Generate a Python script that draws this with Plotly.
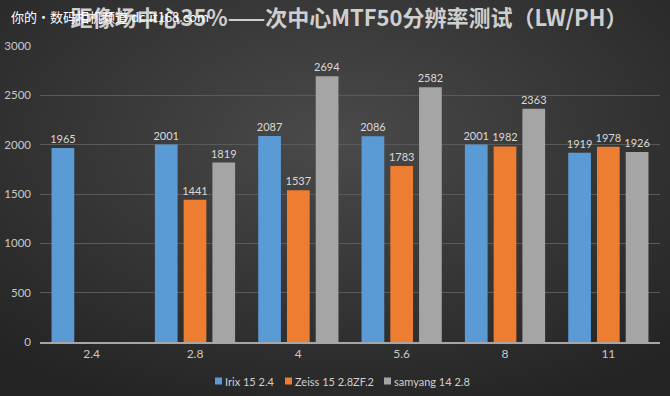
import plotly.graph_objects as go
import base64

categories = ["2.4", "2.8", "4", "5.6", "8", "11"]
irix = [1965, 2001, 2087, 2086, 2001, 1919]
zeiss = [None, 1441, 1537, 1783, 1982, 1978]
samyang = [None, 1819, 2694, 2582, 2363, 1926]
series_names = ["Irix 15 2.4", "Zeiss 15 2.8ZF.2", "samyang 14 2.8"]
colors = ["#5b9bd5", "#ed7d31", "#a5a5a5"]
title = "距像场中心35%——次中心MTF50分辨率测试（LW/PH）"
watermark = "你的•数码相机频道 dc.it168.com"

W, H = 670, 396
L, R, T, B = 40, 10, 46, 54
pw, ph = W - L - R, H - T - B


def px(x):
    return (x - L) / pw


def py(y):
    return (H - B - y) / ph


fig = go.Figure()
for name, vals, c in zip(series_names, [irix, zeiss, samyang], colors):
    fig.add_trace(go.Bar(
        x=categories, y=vals, name=name, marker_color=c,
        marker_line_width=0, showlegend=False,
        text=[("" if v is None else str(v)) for v in vals],
        textposition="outside", cliponaxis=False, constraintext="none",
        textfont=dict(color="#d9d9d9", size=11, family="Lato"),
    ))

svg = (
    '<svg xmlns="http://www.w3.org/2000/svg" width="670" height="396">'
    '<defs><radialGradient id="g" cx="0.5" cy="0.35" r="0.75">'
    '<stop offset="0" stop-color="#4a4a4a"/>'
    '<stop offset="1" stop-color="#232323"/>'
    '</radialGradient></defs>'
    '<rect width="670" height="396" fill="url(#g)"/></svg>'
)
src = "data:image/svg+xml;base64," + base64.b64encode(svg.encode()).decode()

# custom legend (tiny squares as in the reference)
legend_sq_x = [215, 285, 384]
legend_txt_x = [223, 293, 392]
legend_y = 381
shapes = []
annotations = []
for name, c, sx, tx in zip(series_names, colors, legend_sq_x, legend_txt_x):
    shapes.append(dict(type="rect", xref="paper", yref="paper",
                       x0=px(sx), x1=px(sx + 7), y0=py(legend_y + 3.5), y1=py(legend_y - 3.5),
                       fillcolor=c, line_width=0))
    annotations.append(dict(text=name, xref="paper", yref="paper", x=px(tx), y=py(legend_y),
                            xanchor="left", yanchor="middle", showarrow=False,
                            font=dict(size=11, color="#d0d0d0", family="Lato")))

annotations.append(dict(text=watermark, xref="paper", yref="paper",
                        x=px(9), y=py(17), xanchor="left", yanchor="middle",
                        showarrow=False,
                        font=dict(size=13, color="#ffffff", family="Noto Sans CJK SC")))

fig.update_layout(
    width=W, height=H,
    margin=dict(l=L, r=R, t=T, b=B, autoexpand=False),
    paper_bgcolor="#383838",
    plot_bgcolor="rgba(0,0,0,0)",
    barmode="group", bargap=0.165, bargroupgap=0.21,
    images=[dict(source=src, xref="paper", yref="paper",
                 x=-L / pw, y=1 + T / ph, sizex=W / pw, sizey=H / ph,
                 xanchor="left", yanchor="top", sizing="stretch", layer="below")],
    title=dict(text="<b>" + title + "</b>", x=349 / W, xref="container", xanchor="center",
               y=1 - 18 / H, yref="container", yanchor="middle",
               font=dict(size=22, color="#cfcfcf", family="Noto Sans CJK SC")),
    font=dict(family="Lato", color="#bfbfbf", size=12),
    showlegend=False,
    shapes=shapes,
    annotations=annotations,
    xaxis=dict(showgrid=False, showline=True, linecolor="#a6a6a6", linewidth=1.5,
               ticks="", automargin=False, tickfont=dict(size=12, color="#c8c8c8")),
    yaxis=dict(range=[0, 3000], dtick=500, showgrid=True, gridcolor="#5a5a5a",
               gridwidth=1, zeroline=False, showline=False, ticks="", automargin=False,
               ticklabelstandoff=8,
               tickfont=dict(size=11.5, color="#c8c8c8")),
)

fig.write_html("out.html", config={"displayModeBar": False},
               post_script="document.body.style.margin='0';document.body.style.padding='0';")
